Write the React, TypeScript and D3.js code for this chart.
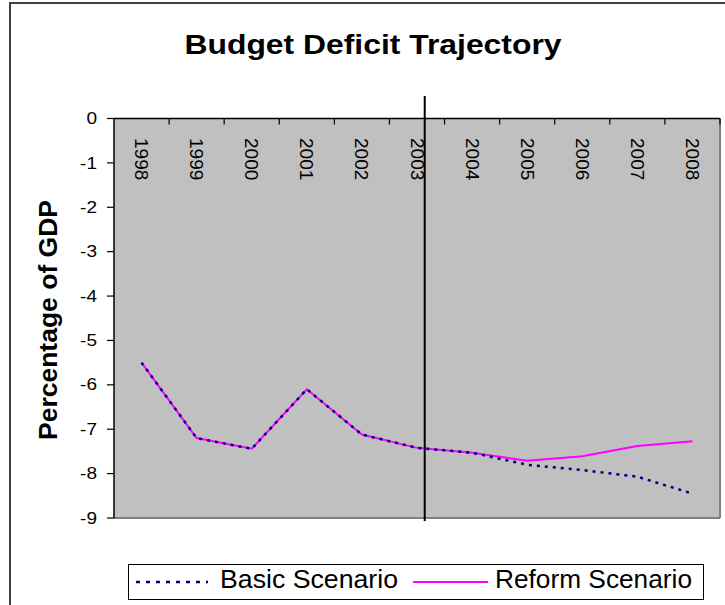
import React from "react";
import * as d3 from "d3";

const years = ["1998","1999","2000","2001","2002","2003","2004","2005","2006","2007","2008"];
const basicScenario = [-5.5,-7.2,-7.44,-6.1,-7.12,-7.42,-7.53,-7.8,-7.92,-8.07,-8.45];
const reformScenario = [-5.5,-7.2,-7.44,-6.1,-7.12,-7.42,-7.53,-7.71,-7.61,-7.38,-7.27];
const yTicks = [0,-1,-2,-3,-4,-5,-6,-7,-8,-9];
const markerYear = "2003";
const seriesNames = ["Basic Scenario","Reform Scenario"];

const FONT = "'Liberation Sans', Arial, sans-serif";

export default function App() {
  const W = 725, H = 605;
  const plot = { left: 114, right: 720, top: 118.5, bottom: 518 };
  const x = d3.scaleBand<string>().domain(years).range([plot.left, plot.right]).padding(0);
  const y = d3.scaleLinear().domain([0, -9]).range([plot.top, plot.bottom]);
  const bw = x.bandwidth();
  const cx = (yr: string) => (x(yr) as number) + bw / 2;

  const line = d3.line<number>()
    .x((_, i) => cx(years[i]))
    .y((d) => y(d));

  const markerX = cx(markerYear) + bw * 0.14;
  const sx = 1.12;

  return (
    <svg width={W} height={H} style={{ position: "absolute", left: 0, top: 0, background: "#fff" }}>
      {/* outer chart frame */}
      <rect x={10} y={3} width={900} height={800} fill="#fff" stroke="#404040" strokeWidth={2} />

      {/* title */}
      <text x={373} y={54} textAnchor="middle" fontFamily={FONT} fontWeight="bold" fontSize={27}
        textLength={377} lengthAdjust="spacingAndGlyphs">Budget Deficit Trajectory</text>

      {/* plot area */}
      <rect x={plot.left} y={plot.top} width={plot.right - plot.left} height={plot.bottom - plot.top} fill="#C0C0C0" />
      <line x1={plot.right} x2={plot.right} y1={plot.top} y2={plot.bottom} stroke="#808080" strokeWidth={2} />
      <line x1={plot.left} x2={plot.right} y1={plot.bottom} y2={plot.bottom} stroke="#808080" strokeWidth={2} />

      {/* y axis */}
      <line x1={plot.left} x2={plot.left} y1={plot.top} y2={plot.bottom} stroke="#000" strokeWidth={1.5} />
      {yTicks.map((t) => (
        <g key={t}>
          <line x1={plot.left - 7} x2={plot.left} y1={y(t)} y2={y(t)} stroke="#000" strokeWidth={1.2} />
          <text transform={`translate(97,${y(t)}) scale(${sx},1)`} textAnchor="end" dominantBaseline="central"
            fontFamily={FONT} fontSize={17}>{t}</text>
        </g>
      ))}

      {/* x axis at 0 (top) */}
      <line x1={plot.left} x2={plot.right} y1={y(0)} y2={y(0)} stroke="#000" strokeWidth={1.5} />
      {years.map((yr, i) => (
        <g key={yr}>
          {i > 0 && <line x1={x(yr) as number} x2={x(yr) as number} y1={y(0)} y2={y(0) + 6} stroke="#000" strokeWidth={1.2} />}
          <text transform={`translate(${cx(yr)},138) rotate(90)`} textAnchor="start" dominantBaseline="central"
            fontFamily={FONT} fontSize={19}>{yr}</text>
        </g>
      ))}
      <line x1={plot.right} x2={plot.right} y1={y(0)} y2={y(0) + 6} stroke="#000" strokeWidth={1.2} />

      {/* y axis title */}
      <text transform={`translate(57,320) rotate(-90)`} textAnchor="middle" fontFamily={FONT} fontWeight="bold"
        fontSize={26} textLength={240} lengthAdjust="spacingAndGlyphs">Percentage of GDP</text>

      {/* series */}
      <path d={line(reformScenario) || ""} fill="none" stroke="#FF00FF" strokeWidth={2} />
      <path d={line(basicScenario) || ""} fill="none" stroke="#000080" strokeWidth={2.5} strokeDasharray="3,5" />

      {/* marker line */}
      <line x1={markerX} x2={markerX} y1={96} y2={521} stroke="#000" strokeWidth={2} />

      {/* legend */}
      <rect x={128.5} y={564.5} width={575} height={35} fill="#fff" stroke="#000" strokeWidth={1} />
      <line x1={136} x2={208} y1={582} y2={582} stroke="#000080" strokeWidth={2.5} strokeDasharray="4,6" />
      <text x={220} y={588} fontFamily={FONT} fontSize={25} textLength={178} lengthAdjust="spacingAndGlyphs">{seriesNames[0]}</text>
      <line x1={413} x2={488} y1={582} y2={582} stroke="#FF00FF" strokeWidth={2} />
      <text x={495} y={588} fontFamily={FONT} fontSize={25} textLength={197} lengthAdjust="spacingAndGlyphs">{seriesNames[1]}</text>
    </svg>
  );
}
